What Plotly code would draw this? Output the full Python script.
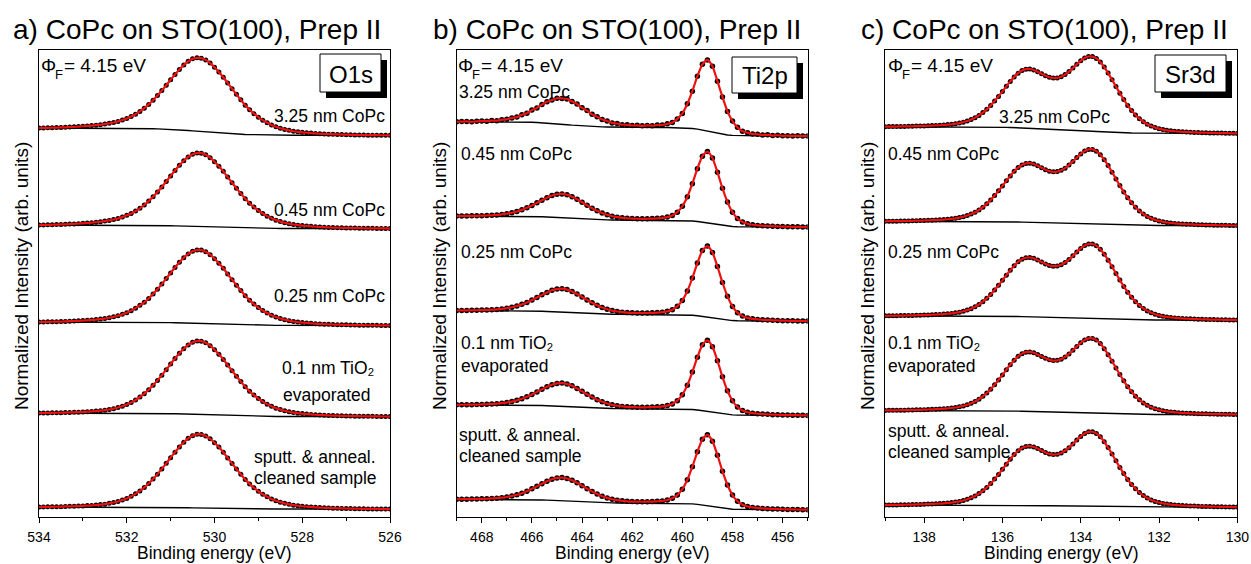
import numpy as np
import plotly.graph_objects as go

FONT = "Liberation Sans, Arial, Helvetica, sans-serif"
W, H = 1251, 564

# ---------------------------------------------------------------------------
# Binding-energy grids (eV), high binding energy first
o1s_energy = np.round(np.linspace(534.0, 526.0, 81), 2)
ti2p_energy = np.round(np.linspace(469.0, 455.0, 71), 2)
sr3d_energy = np.round(np.linspace(139.0, 130.0, 91), 2)

# Normalized intensities (0 = high-BE end, 1 = main maximum), top spectrum first
o1s_325nm = [0.000, 0.001, 0.003, 0.004, 0.006, 0.008, 0.010, 0.013, 0.016, 0.020,
             0.025, 0.029, 0.034, 0.040, 0.047, 0.056, 0.066, 0.079, 0.094, 0.113,
             0.136, 0.163, 0.196, 0.236, 0.282, 0.337, 0.397, 0.464, 0.535, 0.611,
             0.689, 0.764, 0.836, 0.899, 0.951, 0.987, 1.001, 0.997, 0.972, 0.927,
             0.867, 0.800, 0.725, 0.643, 0.560, 0.480, 0.402, 0.325, 0.262, 0.205,
             0.155, 0.112, 0.075, 0.044, 0.018, -0.003, -0.020, -0.034, -0.046, -0.055,
             -0.062, -0.068, -0.073, -0.078, -0.082, -0.085, -0.088, -0.090, -0.092, -0.094,
             -0.095, -0.097, -0.099, -0.100, -0.101, -0.102, -0.102, -0.103, -0.104, -0.104,
             -0.105]
o1s_045nm = [0.000, 0.001, 0.003, 0.004, 0.006, 0.008, 0.010, 0.013, 0.016, 0.020,
             0.025, 0.029, 0.034, 0.040, 0.047, 0.056, 0.066, 0.079, 0.094, 0.113,
             0.138, 0.166, 0.199, 0.239, 0.286, 0.342, 0.403, 0.471, 0.544, 0.621,
             0.701, 0.778, 0.852, 0.917, 0.972, 1.011, 1.027, 1.026, 1.003, 0.961,
             0.903, 0.838, 0.766, 0.685, 0.604, 0.526, 0.450, 0.374, 0.312, 0.256,
             0.206, 0.164, 0.127, 0.096, 0.070, 0.049, 0.033, 0.019, 0.007, -0.002,
             -0.008, -0.014, -0.019, -0.024, -0.028, -0.031, -0.034, -0.036, -0.038, -0.040,
             -0.041, -0.043, -0.044, -0.045, -0.046, -0.047, -0.047, -0.048, -0.049, -0.049,
             -0.050]
o1s_025nm = [0.000, 0.001, 0.002, 0.003, 0.005, 0.006, 0.008, 0.011, 0.014, 0.017,
             0.020, 0.024, 0.029, 0.034, 0.041, 0.049, 0.060, 0.073, 0.089, 0.109,
             0.133, 0.162, 0.197, 0.238, 0.280, 0.336, 0.398, 0.467, 0.541, 0.619,
             0.700, 0.778, 0.852, 0.917, 0.972, 1.011, 1.027, 1.026, 1.003, 0.961,
             0.903, 0.838, 0.766, 0.685, 0.604, 0.526, 0.450, 0.374, 0.312, 0.256,
             0.206, 0.164, 0.127, 0.096, 0.070, 0.049, 0.033, 0.019, 0.007, -0.002,
             -0.008, -0.014, -0.019, -0.024, -0.028, -0.031, -0.034, -0.036, -0.038, -0.040,
             -0.041, -0.043, -0.044, -0.045, -0.046, -0.047, -0.047, -0.048, -0.049, -0.049,
             -0.050]
o1s_tio2 = [0.000, 0.001, 0.002, 0.003, 0.004, 0.005, 0.007, 0.009, 0.011, 0.013,
            0.016, 0.019, 0.023, 0.028, 0.034, 0.041, 0.051, 0.063, 0.079, 0.098,
            0.122, 0.152, 0.187, 0.229, 0.277, 0.334, 0.397, 0.466, 0.541, 0.619,
            0.700, 0.778, 0.852, 0.917, 0.972, 1.011, 1.027, 1.026, 1.003, 0.961,
            0.903, 0.838, 0.766, 0.685, 0.604, 0.526, 0.450, 0.374, 0.312, 0.256,
            0.206, 0.164, 0.127, 0.096, 0.070, 0.049, 0.033, 0.019, 0.007, -0.002,
            -0.008, -0.014, -0.019, -0.024, -0.028, -0.031, -0.034, -0.036, -0.038, -0.040,
            -0.041, -0.043, -0.044, -0.045, -0.046, -0.047, -0.047, -0.048, -0.049, -0.049,
            -0.050]
o1s_clean = [0.000, 0.001, 0.002, 0.003, 0.004, 0.005, 0.008, 0.010, 0.011, 0.014,
             0.016, 0.020, 0.023, 0.028, 0.034, 0.041, 0.052, 0.064, 0.079, 0.099,
             0.123, 0.153, 0.188, 0.230, 0.279, 0.336, 0.399, 0.469, 0.544, 0.623,
             0.704, 0.783, 0.858, 0.924, 0.980, 1.019, 1.037, 1.036, 1.015, 0.973,
             0.917, 0.856, 0.781, 0.701, 0.620, 0.543, 0.467, 0.392, 0.330, 0.274,
             0.225, 0.182, 0.146, 0.115, 0.089, 0.069, 0.052, 0.038, 0.026, 0.018,
             0.011, 0.005, 0.001, -0.004, -0.008, -0.011, -0.014, -0.016, -0.018, -0.020,
             -0.021, -0.022, -0.024, -0.025, -0.026, -0.027, -0.027, -0.028, -0.029, -0.029,
             -0.030]

ti2p_325nm = [0.000, 0.002, 0.004, -0.001, 0.006, 0.010, 0.008, 0.018, 0.016, 0.031,
              0.037, 0.058, 0.071, 0.106, 0.131, 0.178, 0.211, 0.262, 0.305, 0.332,
              0.359, 0.357, 0.349, 0.309, 0.272, 0.213, 0.170, 0.113, 0.078, 0.034,
              0.012, -0.018, -0.027, -0.045, -0.047, -0.058, -0.055, -0.062, -0.056, -0.060,
              -0.050, -0.049, -0.032, -0.012, 0.043, 0.127, 0.276, 0.468, 0.697, 0.878,
              0.946, 0.847, 0.620, 0.379, 0.158, 0.010, -0.086, -0.146, -0.167, -0.187,
              -0.191, -0.203, -0.200, -0.211, -0.207, -0.215, -0.213, -0.219, -0.215, -0.220,
              -0.218]
ti2p_045nm = [0.000, 0.001, 0.002, 0.003, 0.004, 0.006, 0.009, 0.012, 0.018, 0.025,
              0.036, 0.050, 0.070, 0.095, 0.126, 0.163, 0.202, 0.243, 0.282, 0.314,
              0.334, 0.339, 0.326, 0.297, 0.257, 0.211, 0.164, 0.120, 0.080, 0.047,
              0.020, -0.002, -0.017, -0.027, -0.034, -0.038, -0.041, -0.042, -0.041, -0.039,
              -0.035, -0.029, -0.016, 0.010, 0.060, 0.150, 0.296, 0.496, 0.724, 0.916,
              0.986, 0.889, 0.672, 0.426, 0.214, 0.059, -0.037, -0.091, -0.118, -0.133,
              -0.143, -0.148, -0.152, -0.156, -0.158, -0.161, -0.163, -0.164, -0.165, -0.167,
              -0.168]
ti2p_025nm = [0.000, 0.001, 0.001, 0.003, 0.004, 0.006, 0.008, 0.012, 0.017, 0.024,
              0.035, 0.049, 0.068, 0.094, 0.124, 0.160, 0.199, 0.239, 0.277, 0.309,
              0.328, 0.333, 0.320, 0.292, 0.252, 0.207, 0.162, 0.118, 0.079, 0.046,
              0.020, -0.001, -0.015, -0.025, -0.032, -0.036, -0.038, -0.039, -0.038, -0.036,
              -0.032, -0.026, -0.013, 0.013, 0.063, 0.153, 0.298, 0.497, 0.725, 0.916,
              0.985, 0.888, 0.673, 0.428, 0.216, 0.062, -0.033, -0.086, -0.113, -0.127,
              -0.137, -0.142, -0.146, -0.150, -0.152, -0.155, -0.157, -0.158, -0.159, -0.161,
              -0.162]
ti2p_tio2 = [0.000, 0.001, 0.002, 0.002, 0.004, 0.006, 0.009, 0.012, 0.017, 0.025,
             0.035, 0.050, 0.069, 0.093, 0.124, 0.159, 0.198, 0.238, 0.276, 0.308,
             0.327, 0.332, 0.319, 0.291, 0.251, 0.206, 0.161, 0.118, 0.079, 0.047,
             0.021, 0.000, -0.014, -0.024, -0.031, -0.035, -0.037, -0.038, -0.037, -0.035,
             -0.031, -0.025, -0.012, 0.014, 0.064, 0.155, 0.301, 0.501, 0.728, 0.918,
             0.987, 0.890, 0.674, 0.428, 0.216, 0.062, -0.033, -0.086, -0.113, -0.127,
             -0.137, -0.142, -0.146, -0.150, -0.152, -0.155, -0.157, -0.158, -0.159, -0.161,
             -0.162]
ti2p_clean = [0.000, 0.001, 0.001, 0.002, 0.004, 0.006, 0.008, 0.012, 0.017, 0.024,
              0.035, 0.049, 0.068, 0.093, 0.123, 0.159, 0.197, 0.237, 0.275, 0.307,
              0.326, 0.331, 0.318, 0.290, 0.251, 0.206, 0.161, 0.118, 0.079, 0.047,
              0.021, 0.000, -0.014, -0.024, -0.031, -0.035, -0.037, -0.038, -0.037, -0.035,
              -0.031, -0.025, -0.012, 0.014, 0.064, 0.154, 0.299, 0.498, 0.725, 0.916,
              0.985, 0.889, 0.674, 0.429, 0.218, 0.064, -0.031, -0.084, -0.111, -0.125,
              -0.135, -0.140, -0.144, -0.148, -0.150, -0.153, -0.155, -0.156, -0.157, -0.159,
              -0.160]

sr3d_325nm = [0.000, 0.001, 0.001, 0.002, 0.003, 0.004, 0.005, 0.006, 0.008, 0.009,
              0.011, 0.013, 0.015, 0.018, 0.020, 0.024, 0.029, 0.034, 0.042, 0.050,
              0.063, 0.079, 0.099, 0.125, 0.158, 0.197, 0.243, 0.297, 0.359, 0.424,
              0.494, 0.565, 0.634, 0.697, 0.749, 0.785, 0.805, 0.807, 0.794, 0.770,
              0.740, 0.714, 0.692, 0.681, 0.683, 0.699, 0.729, 0.771, 0.820, 0.873,
              0.922, 0.961, 0.982, 0.981, 0.955, 0.905, 0.834, 0.750, 0.658, 0.562,
              0.469, 0.380, 0.298, 0.226, 0.165, 0.112, 0.069, 0.035, 0.008, -0.013,
              -0.028, -0.041, -0.051, -0.058, -0.064, -0.068, -0.072, -0.075, -0.077, -0.080,
              -0.082, -0.084, -0.085, -0.087, -0.088, -0.089, -0.090, -0.091, -0.092, -0.093,
              -0.094]
sr3d_045nm = [0.000, 0.001, 0.001, 0.002, 0.003, 0.004, 0.005, 0.007, 0.008, 0.010,
              0.011, 0.013, 0.016, 0.018, 0.021, 0.024, 0.029, 0.035, 0.042, 0.052,
              0.064, 0.080, 0.101, 0.126, 0.158, 0.197, 0.244, 0.298, 0.360, 0.426,
              0.495, 0.566, 0.635, 0.699, 0.752, 0.789, 0.810, 0.813, 0.801, 0.778,
              0.749, 0.723, 0.702, 0.692, 0.696, 0.713, 0.744, 0.787, 0.838, 0.892,
              0.943, 0.983, 1.006, 1.006, 0.982, 0.933, 0.863, 0.780, 0.688, 0.593,
              0.500, 0.411, 0.330, 0.258, 0.197, 0.145, 0.102, 0.068, 0.041, 0.020,
              0.005, -0.008, -0.017, -0.024, -0.030, -0.034, -0.038, -0.041, -0.043, -0.046,
              -0.048, -0.050, -0.051, -0.053, -0.054, -0.055, -0.056, -0.057, -0.058, -0.059,
              -0.060]
sr3d_025nm = [0.000, 0.001, 0.001, 0.002, 0.003, 0.004, 0.005, 0.006, 0.008, 0.009,
              0.011, 0.013, 0.015, 0.018, 0.020, 0.024, 0.029, 0.034, 0.042, 0.051,
              0.064, 0.080, 0.100, 0.126, 0.159, 0.198, 0.245, 0.299, 0.361, 0.427,
              0.497, 0.569, 0.638, 0.702, 0.755, 0.792, 0.813, 0.816, 0.804, 0.781,
              0.752, 0.726, 0.705, 0.695, 0.698, 0.715, 0.746, 0.788, 0.839, 0.893,
              0.943, 0.983, 1.005, 1.005, 0.981, 0.932, 0.862, 0.779, 0.688, 0.593,
              0.500, 0.412, 0.331, 0.259, 0.198, 0.146, 0.103, 0.069, 0.042, 0.021,
              0.006, -0.007, -0.016, -0.023, -0.029, -0.033, -0.037, -0.040, -0.042, -0.045,
              -0.047, -0.049, -0.050, -0.052, -0.053, -0.054, -0.055, -0.056, -0.057, -0.058,
              -0.059]
sr3d_tio2 = [0.000, 0.001, 0.001, 0.002, 0.003, 0.004, 0.005, 0.006, 0.008, 0.009,
             0.011, 0.013, 0.015, 0.017, 0.020, 0.024, 0.028, 0.034, 0.041, 0.051,
             0.063, 0.079, 0.099, 0.125, 0.158, 0.197, 0.244, 0.298, 0.360, 0.426,
             0.497, 0.570, 0.640, 0.704, 0.757, 0.795, 0.816, 0.819, 0.807, 0.784,
             0.755, 0.729, 0.708, 0.698, 0.701, 0.718, 0.749, 0.791, 0.842, 0.896,
             0.946, 0.986, 1.008, 1.008, 0.984, 0.935, 0.864, 0.781, 0.690, 0.595,
             0.502, 0.414, 0.333, 0.261, 0.200, 0.148, 0.105, 0.071, 0.044, 0.023,
             0.008, -0.005, -0.014, -0.021, -0.027, -0.031, -0.035, -0.038, -0.040, -0.043,
             -0.045, -0.047, -0.048, -0.050, -0.051, -0.052, -0.053, -0.054, -0.055, -0.056,
             -0.057]
sr3d_clean = [0.000, 0.001, 0.001, 0.002, 0.003, 0.004, 0.005, 0.006, 0.008, 0.009,
              0.011, 0.013, 0.015, 0.018, 0.020, 0.024, 0.029, 0.034, 0.042, 0.051,
              0.064, 0.081, 0.101, 0.127, 0.160, 0.199, 0.246, 0.301, 0.363, 0.429,
              0.500, 0.572, 0.642, 0.707, 0.760, 0.798, 0.820, 0.824, 0.812, 0.790,
              0.762, 0.737, 0.716, 0.707, 0.711, 0.729, 0.760, 0.803, 0.855, 0.910,
              0.961, 1.002, 1.025, 1.026, 1.003, 0.955, 0.886, 0.804, 0.714, 0.619,
              0.527, 0.440, 0.359, 0.287, 0.227, 0.175, 0.132, 0.098, 0.071, 0.050,
              0.035, 0.023, 0.014, 0.007, 0.001, -0.003, -0.007, -0.010, -0.012, -0.015,
              -0.017, -0.019, -0.020, -0.022, -0.023, -0.024, -0.025, -0.026, -0.027, -0.028,
              -0.029]

panel_titles = ["a) CoPc on STO(100), Prep II",
                "b) CoPc on STO(100), Prep II",
                "c) CoPc on STO(100), Prep II"]
core_levels = ["O1s", "Ti2p", "Sr3d"]
x_ranges = [(534, 526), (469, 455), (139, 130)]
work_function_value = "= 4.15 eV"

panels = [
    dict(energy=o1s_energy, spectra=[o1s_325nm, o1s_045nm, o1s_025nm, o1s_tio2, o1s_clean],
         offsets=[4.165, 3.126, 2.088, 1.113, 0.107], height=0.75, msize=5),
    dict(energy=ti2p_energy, spectra=[ti2p_325nm, ti2p_045nm, ti2p_025nm, ti2p_tio2, ti2p_clean],
         offsets=[4.232, 3.222, 2.211, 1.201, 0.190], height=0.70, msize=5.5),
    dict(energy=sr3d_energy, spectra=[sr3d_325nm, sr3d_045nm, sr3d_025nm, sr3d_tio2, sr3d_clean],
         offsets=[4.179, 3.166, 2.154, 1.141, 0.128], height=0.765, msize=5),
]

# plot-area geometry in pixels: (left, right)
frames_px = [(39, 390), (456.7, 807.7), (885, 1237.3)]
TOP_PX, BOTTOM_PX = 50, 517


def px_x(x):
    return x / W


def px_y(y):
    return 1 - y / H


def shirley(y, n_iter=50):
    """Iterative Shirley background; y ordered from high to low binding energy."""
    y = np.asarray(y, dtype=float)
    hi, lo = y[0], y[-1]
    bg = np.full_like(y, lo)
    for _ in range(n_iter):
        s = y - bg
        cum = np.cumsum(s[::-1])[::-1]
        bg = lo + (hi - lo) * cum / cum[0]
    return bg


fig = go.Figure()
layout = dict(width=W, height=H, autosize=False,
              margin=dict(l=0, r=0, t=0, b=0, pad=0, autoexpand=False),
              paper_bgcolor="white", plot_bgcolor="white",
              showlegend=False, font=dict(family=FONT, color="black"))

for k, (panel, (xl, xr), xrng) in enumerate(zip(panels, frames_px, x_ranges), start=1):
    xa, ya = f"x{k}", f"y{k}"
    energy = panel["energy"]
    scaled = [np.array(sp) * panel["height"] + off for sp, off in zip(panel["spectra"], panel["offsets"])]
    # measured points
    for ys in scaled:
        fig.add_trace(go.Scatter(x=energy, y=ys, mode="markers", xaxis=xa, yaxis=ya,
                                 marker=dict(color="black", size=panel["msize"], symbol="circle"),
                                 hoverinfo="skip"))
    # Shirley backgrounds
    for ys in scaled:
        fig.add_trace(go.Scatter(x=energy, y=shirley(ys), mode="lines", xaxis=xa, yaxis=ya,
                                 line=dict(color="black", width=1.4), hoverinfo="skip"))
    # fit envelopes
    for ys in scaled:
        fig.add_trace(go.Scatter(x=energy, y=ys, mode="lines", xaxis=xa, yaxis=ya,
                                 line=dict(color="#ee1111", width=2.2, shape="spline", smoothing=0.6),
                                 hoverinfo="skip"))

    dom_x = [px_x(xl), px_x(xr)]
    dom_y = [px_y(BOTTOM_PX), px_y(TOP_PX)]
    layout[f"xaxis{k}"] = dict(domain=dom_x, anchor=ya, range=list(xrng), automargin=False,
                               showline=True, linecolor="black", linewidth=1.2, mirror=True,
                               ticks="outside", ticklen=5, tickwidth=1, tickcolor="black",
                               dtick=2, tick0=0, showgrid=False, zeroline=False,
                               tickfont=dict(size=14, family=FONT),
                               ticklabelstandoff=2,
                               minor=dict(dtick=1, tick0=0, ticks="outside", ticklen=3,
                                          tickcolor="black", showgrid=False))
    layout[f"xaxis{k + 3}"] = dict(domain=dom_x, anchor=ya, overlaying=xa, side="top",
                                   range=list(xrng), showline=False, showticklabels=False,
                                   automargin=False,
                                   ticks="inside", ticklen=4, tickcolor="black", dtick=2, tick0=0,
                                   showgrid=False, zeroline=False,
                                   minor=dict(dtick=1, tick0=0, ticks="inside", ticklen=2,
                                              tickcolor="black", showgrid=False))
    layout[f"yaxis{k}"] = dict(domain=dom_y, anchor=xa, range=[0, 5], automargin=False,
                               showline=True, linecolor="black", linewidth=1.2, mirror=True,
                               showticklabels=False, ticks="", showgrid=False, zeroline=False)

fig.update_layout(**layout)

annotations = []
shapes = []


def text(x, y, s, size, anchor="left", angle=0):
    annotations.append(dict(xref="paper", yref="paper", x=px_x(x), y=px_y(y), text=s,
                            showarrow=False, xanchor=anchor, yanchor="middle", textangle=angle,
                            borderpad=0, font=dict(size=size, family=FONT, color="black")))


# panel titles
for x0, t in zip([12, 432, 860], panel_titles):
    text(x0, 29, t, 28)

# axis titles
for (xl, xr) in frames_px:
    text((xl + xr) / 2, 553, "Binding energy (eV)", 17.5, anchor="center")
for x0 in [22, 440, 868]:
    text(x0, 276, "Normalized Intensity (arb. units)", 19, anchor="center", angle=-90)

# work function notes: Φ with a lowered small F, then the value
for x0 in [40, 457, 887]:
    text(x0, 65, "Φ", 19)
    text(x0 + 14, 74, "F", 13)
    text(x0 + 23, 65, work_function_value, 19)

# core-level boxes with drop shadow
boxes_px = [(320, 54, 381, 92), (732, 57, 797, 93), (1155, 55, 1226, 92)]
for (x0, y0, x1, y1), name in zip(boxes_px, core_levels):
    shapes.append(dict(type="rect", xref="paper", yref="paper",
                       x0=px_x(x0 + 6), x1=px_x(x1 + 6), y0=px_y(y1 + 6), y1=px_y(y0 + 6),
                       fillcolor="black", line=dict(width=0)))
    shapes.append(dict(type="rect", xref="paper", yref="paper",
                       x0=px_x(x0), x1=px_x(x1), y0=px_y(y1), y1=px_y(y0),
                       fillcolor="white", line=dict(color="black", width=1)))
    text((x0 + x1) / 2, (y0 + y1) / 2 + 1, name, 24, anchor="center")

# sample labels
tio2 = "0.1 nm TiO₂"
LBL = 17.5
# panel a
text(386, 116, "3.25 nm CoPc", LBL, anchor="right")
text(386, 210, "0.45 nm CoPc", LBL, anchor="right")
text(386, 296, "0.25 nm CoPc", LBL, anchor="right")
text(375, 368, tio2, LBL, anchor="right")
text(372, 395, "evaporated", LBL, anchor="right")
text(253, 457, "sputt. & anneal.", LBL)
text(253, 478, "cleaned sample", LBL)
# panel b
text(458, 92, "3.25 nm CoPc", LBL)
text(460, 154, "0.45 nm CoPc", LBL)
text(460, 252, "0.25 nm CoPc", LBL)
text(460, 343, tio2, LBL)
text(460, 366, "evaporated", LBL)
text(458, 435, "sputt. & anneal.", LBL)
text(458, 456, "cleaned sample", LBL)
# panel c
text(998, 117, "3.25 nm CoPc", LBL)
text(887, 154, "0.45 nm CoPc", LBL)
text(887, 252, "0.25 nm CoPc", LBL)
text(887, 343, tio2, LBL)
text(887, 366, "evaporated", LBL)
text(887, 431, "sputt. & anneal.", LBL)
text(887, 452, "cleaned sample", LBL)

fig.update_layout(annotations=annotations, shapes=shapes)
fig.write_html("out.html")
